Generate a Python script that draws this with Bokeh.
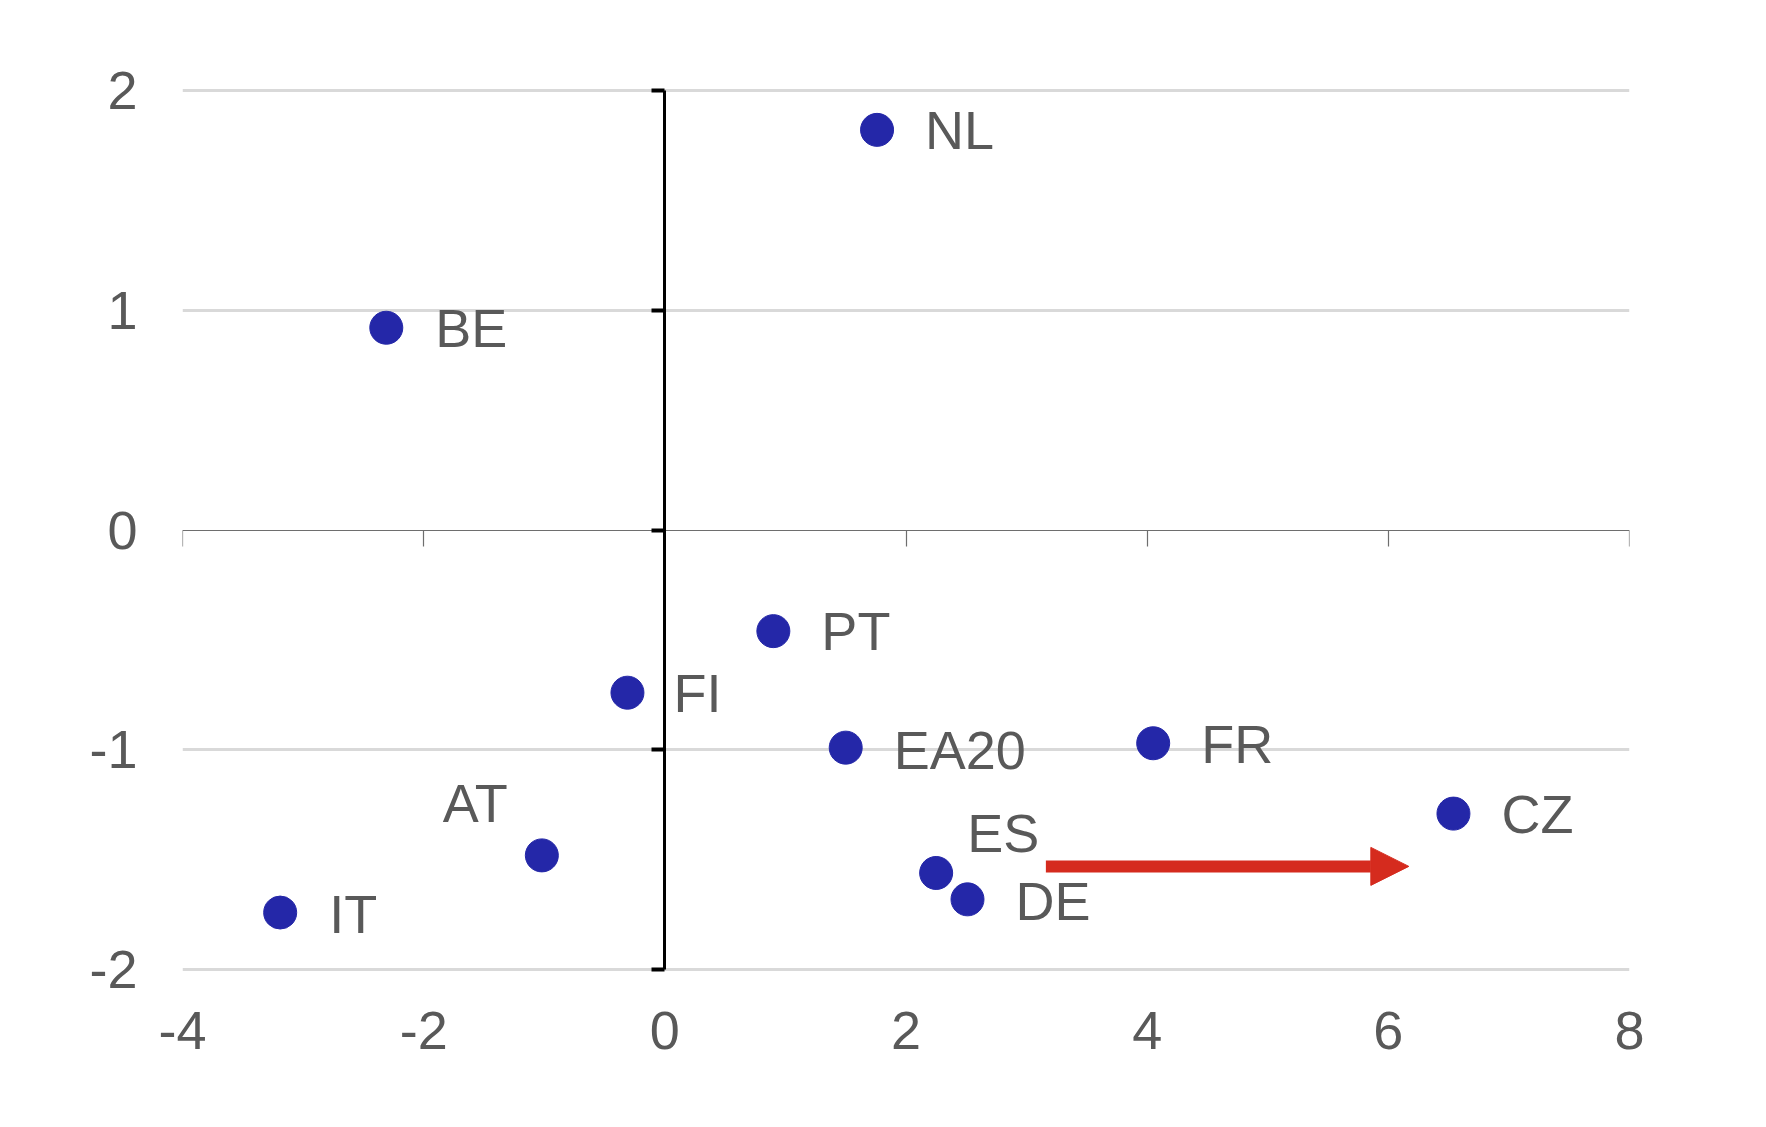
from bokeh.plotting import figure
from bokeh.models import (ColumnDataSource, LinearAxis, FixedTicker, Range1d,
                          Arrow, NormalHead, Grid)
from bokeh.core.properties import value
from bokeh.embed import file_html
from bokeh.resources import INLINE

# ---- data ----
countries = ["NL", "BE", "PT", "FI", "EA20", "FR", "CZ", "ES", "DE", "AT", "IT"]
x_vals = [1.76, -2.31, 0.90, -0.31, 1.50, 4.05, 6.54, 2.25, 2.51, -1.02, -3.19]
y_vals = [1.82, 0.92, -0.46, -0.74, -0.99, -0.97, -1.29, -1.56, -1.68, -1.48, -1.74]
x_ticks = [-4, -2, 0, 2, 4, 6, 8]
y_ticks = [-2, -1, 0, 1, 2]
arrow_x = [3.16, 6.17]
arrow_y = -1.53

# ---- label placement (pixels, relative to point) ----
label_offsets = {
    "NL": (48, 0), "BE": (49, 0), "PT": (48, 0), "FI": (46, 0),
    "EA20": (48, 2), "FR": (48, 1), "CZ": (48, 0), "ES": (31, -40),
    "DE": (48, 2), "AT": (-99, -52), "IT": (49, 1),
}

FONT = "Liberation Sans"
TXT = "#595959"
DOT = "#2427A8"
RED = "#D52B1E"

src = ColumnDataSource(dict(
    x=x_vals, y=y_vals, label=countries,
    dx=[label_offsets[c][0] for c in countries],
    dy=[label_offsets[c][1] for c in countries],
))

p = figure(frame_width=1447, frame_height=897,
           x_range=Range1d(-4, 8), y_range=Range1d(-2.04, 2.04),
           output_backend="svg", toolbar_location=None,
           x_axis_type=None, y_axis_type=None,
           min_border_left=182, min_border_right=120,
           min_border_top=81, min_border_bottom=132)
p.outline_line_color = None
p.background_fill_color = "white"
p.border_fill_color = "white"

# label-only axes on the outer edges
lab_x = LinearAxis(ticker=FixedTicker(ticks=x_ticks))
lab_y = LinearAxis(ticker=FixedTicker(ticks=y_ticks))
for ax, ticks in ((lab_x, x_ticks), (lab_y, y_ticks)):
    ax.axis_line_color = None
    ax.major_tick_line_color = None
    ax.minor_tick_line_color = None
    ax.major_tick_out = 0
    ax.major_tick_in = 0
    ax.major_label_text_font = FONT
    ax.major_label_text_font_size = "54px"
    ax.major_label_text_color = TXT
    ax.major_label_overrides = {t: str(t) for t in ticks}
lab_x.major_label_standoff = 33
lab_y.major_label_standoff = 45
p.add_layout(lab_x, "below")
p.add_layout(lab_y, "left")

# crossing axes
ax0 = LinearAxis(ticker=FixedTicker(ticks=x_ticks), fixed_location=0,
                 bounds=(x_ticks[0], x_ticks[-1]))
ax0.axis_line_color = "#6e6e6e"
ax0.axis_line_width = 1.2
ax0.major_tick_line_color = "#6e6e6e"
ax0.major_tick_line_width = 1.2
ax0.major_tick_out = 16
ax0.major_tick_in = 0
ax0.minor_tick_line_color = None
ax0.major_label_text_alpha = 0
ax0.major_label_text_font_size = "1px"
p.add_layout(ax0, "below")

ay0 = LinearAxis(ticker=FixedTicker(ticks=y_ticks), fixed_location=0,
                 bounds=(y_ticks[0], y_ticks[-1]))
ay0.axis_line_color = "black"
ay0.axis_line_width = 3
ay0.major_tick_line_color = "black"
ay0.major_tick_line_width = 4
ay0.major_tick_out = 13
ay0.major_tick_in = 0
ay0.minor_tick_line_color = None
ay0.major_label_text_alpha = 0
ay0.major_label_text_font_size = "1px"
p.add_layout(ay0, "left")

# grid
g = Grid(dimension=1, ticker=FixedTicker(ticks=[t for t in y_ticks if t != 0]))
g.grid_line_color = "#D9D9D9"
g.grid_line_width = 3
p.add_layout(g)

# arrow
p.add_layout(Arrow(end=NormalHead(size=38, fill_color=RED, line_color=RED, line_width=1),
                   start=None, x_start=arrow_x[0], y_start=arrow_y,
                   x_end=arrow_x[1], y_end=arrow_y,
                   line_color=RED, line_width=12))

# points and labels
p.scatter("x", "y", source=src, size=33, fill_color=DOT, line_color=DOT)
p.text("x", "y", text="label", source=src, x_offset="dx", y_offset="dy",
       text_font=value(FONT), text_font_size="54px", text_color=TXT,
       text_align="left", text_baseline="middle")

open("out.html", "w").write(file_html(p, INLINE))
